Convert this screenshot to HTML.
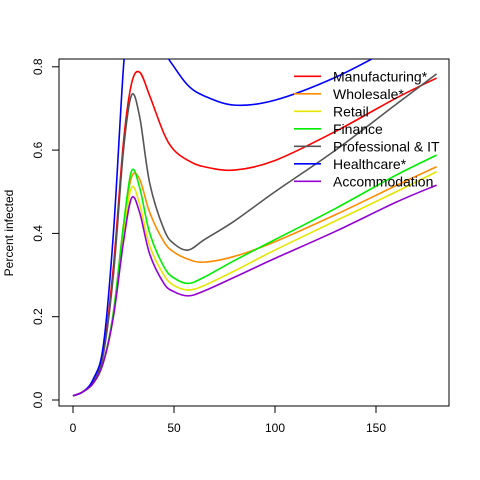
<!DOCTYPE html>
<html><head><meta charset="utf-8"><style>
body{margin:0;background:#fff}
svg{display:block;font-family:"Liberation Sans",Arial,sans-serif}
</style></head><body>
<svg id="chart" width="480" height="480">
<defs><clipPath id="clip"><rect x="59" y="59" width="390" height="347"/></clipPath></defs>
<rect x="59" y="59" width="390" height="347" fill="none" stroke="#000"/>
<g id="axes"></g>
<g id="series" clip-path="url(#clip)"></g>
<g id="legend"></g>
<text transform="translate(13,233) rotate(-90)" text-anchor="middle" font-size="12">Percent infected</text>
</svg>
<script>
const days=[0,5,10,15,20,25,29,33,38,45,50,57,65,80,100,130,160,180];
const names=["Manufacturing*","Wholesale*","Retail","Finance","Professional & IT","Healthcare*","Accommodation"];
const colors=["#ff0000","#ff8c00","#e6e600","#00ee00","#555555","#0000ff","#9400d3"];
const manufacturing=[0.01,0.02,0.045,0.11,0.32,0.62,0.76,0.787,0.73,0.64,0.60,0.575,0.56,0.552,0.575,0.645,0.725,0.773];
const wholesale=[0.01,0.02,0.04,0.09,0.21,0.42,0.535,0.53,0.45,0.38,0.355,0.338,0.331,0.345,0.38,0.445,0.515,0.56];
const retail=[0.01,0.02,0.04,0.09,0.2,0.4,0.51,0.47,0.37,0.30,0.275,0.264,0.275,0.31,0.36,0.43,0.50,0.548];
const finance=[0.01,0.02,0.04,0.09,0.21,0.42,0.55,0.51,0.40,0.32,0.293,0.28,0.295,0.335,0.385,0.46,0.54,0.588];
const professional=[0.01,0.02,0.045,0.11,0.3,0.6,0.732,0.68,0.52,0.41,0.375,0.36,0.385,0.43,0.50,0.60,0.71,0.783];
const healthcare=[0.01,0.02,0.05,0.13,0.4,0.8,1.0,1.0,0.93,0.84,0.80,0.755,0.73,0.708,0.72,0.775,0.85,0.90];
const accommodation=[0.01,0.02,0.04,0.09,0.2,0.38,0.485,0.45,0.35,0.28,0.26,0.25,0.262,0.295,0.34,0.405,0.475,0.516];
const xTicks=[0,50,100,150];
const yTicks=[0.0,0.2,0.4,0.6,0.8];
const seriesData=[manufacturing,wholesale,retail,finance,professional,healthcare,accommodation];
const NS="http://www.w3.org/2000/svg";
const xs=v=>73+v*2.02;
const ys=v=>400-v*416.5;
function mk(tag,attrs,parent){const e=document.createElementNS(NS,tag);for(const k in attrs)e.setAttribute(k,attrs[k]);parent.appendChild(e);return e;}
const axes=document.getElementById('axes');
mk('line',{x1:xs(0),x2:xs(150),y1:406,y2:406,stroke:'#000'},axes);
xTicks.forEach(t=>{mk('line',{x1:xs(t),x2:xs(t),y1:406,y2:413,stroke:'#000'},axes);
 const tx=mk('text',{x:xs(t),y:432,'text-anchor':'middle','font-size':12},axes);tx.textContent=t;
 
 });
mk('line',{x1:59,x2:59,y1:ys(0),y2:ys(0.8),stroke:'#000'},axes);
yTicks.forEach(t=>{mk('line',{x1:52,x2:59,y1:ys(t),y2:ys(t),stroke:'#000'},axes);
 const tx=mk('text',{transform:`translate(42,${ys(t)}) rotate(-90)`,'text-anchor':'middle','font-size':12},axes);tx.textContent=t.toFixed(1);
 
 });
function pathFor(vals){
 const p=days.map((d,i)=>[xs(d),ys(vals[i])]);
 let s=`M${p[0][0]},${p[0][1]}`;
 for(let i=0;i<p.length-1;i++){
  const p0=p[Math.max(0,i-1)],p1=p[i],p2=p[i+1],p3=p[Math.min(p.length-1,i+2)];
  const c1=[p1[0]+(p2[0]-p0[0])/6,p1[1]+(p2[1]-p0[1])/6];
  const c2=[p2[0]-(p3[0]-p1[0])/6,p2[1]-(p3[1]-p1[1])/6];
  s+=`C${c1[0]},${c1[1]} ${c2[0]},${c2[1]} ${p2[0]},${p2[1]}`;
 }
 return s;
}
const sg=document.getElementById('series');
seriesData.forEach((vals,i)=>{
 const el=mk('path',{d:pathFor(vals),fill:'none',stroke:colors[i],'stroke-width':1.6},sg);
 
 
});
const lg=document.getElementById('legend');
names.forEach((n,i)=>{
 const y=76.3+i*17.5;
 const l=mk('line',{x1:294,x2:321,y1:y,y2:y,stroke:colors[i],'stroke-width':1.6},lg);
 
 
 const t=mk('text',{x:333,y:y+5,'font-size':14},lg);t.textContent=n;
 
 
});
</script>
</body></html>
